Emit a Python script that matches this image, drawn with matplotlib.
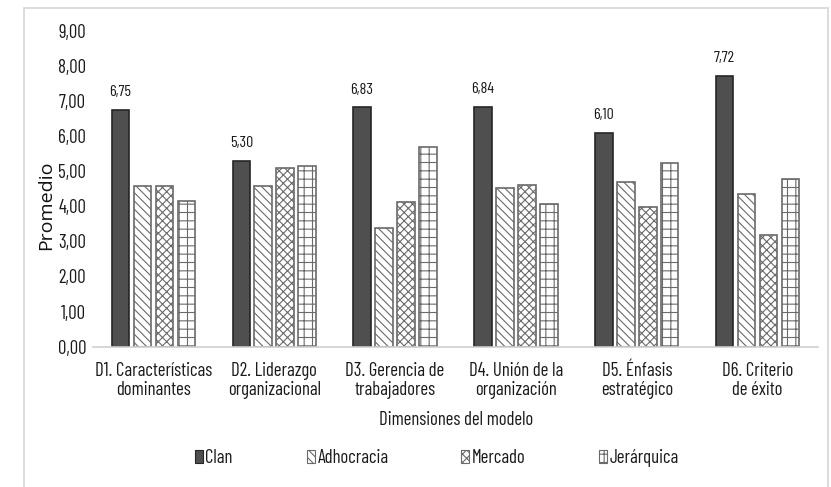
import matplotlib
matplotlib.use("Agg")
import matplotlib.pyplot as plt
from matplotlib.patches import Rectangle, Patch
import numpy as np

plt.rcParams['hatch.linewidth'] = 0.8

categories = ["D1. Características\ndominantes", "D2. Liderazgo\norganizacional",
              "D3. Gerencia de\ntrabajadores", "D4. Unión de la\norganización",
              "D5. Énfasis\nestratégico", "D6. Criterio\nde éxito"]
series = ["Clan", "Adhocracia", "Mercado", "Jerárquica"]
clan = [6.75, 5.30, 6.83, 6.84, 6.10, 7.72]
adhocracia = [4.59, 4.59, 3.37, 4.53, 4.70, 4.35]
mercado = [4.59, 5.09, 4.12, 4.61, 3.99, 3.18]
jerarquica = [4.16, 5.16, 5.70, 4.07, 5.23, 4.77]
yticks = [0, 1, 2, 3, 4, 5, 6, 7, 8, 9]

narrow = ['Barlow Condensed', 'Roboto Condensed', 'DejaVu Sans']
ink = '#1a1a1a'

fig = plt.figure(figsize=(8.31, 4.87), dpi=100)
fig.patches.append(Rectangle((24/831, -0.02), (828-24)/831, 1 - 8/487 + 0.02,
                             transform=fig.transFigure, fill=False,
                             edgecolor='#d6d6d6', linewidth=1.2))
ax = fig.add_axes([93/831, 1 - 346.6/487, (818-93)/831, 315.5/487])

styles = [
    dict(facecolor='#4f4f4f', edgecolor='#262626', hatch=None),
    dict(facecolor='white', edgecolor='#6a6a6a', hatch='\\\\\\\\'),
    dict(facecolor='white', edgecolor='#6a6a6a', hatch='xxxx'),
    dict(facecolor='white', edgecolor='#6a6a6a', hatch='++'),
]
data = [clan, adhocracia, mercado, jerarquica]
x = np.arange(len(categories))
width = 0.145
step = 0.182
for i, (vals, st, name) in enumerate(zip(data, styles, series)):
    pos = x + (i - 1.5) * step
    ax.bar(pos, vals, width, facecolor=st['facecolor'], edgecolor=st['edgecolor'],
           hatch=st['hatch'], linewidth=1.2, label=name)
    if i == 0:
        for p, v in zip(pos, vals):
            ax.text(p, v + 0.3, f"{v:.2f}".replace('.', ','), ha='center', va='bottom',
                    fontsize=11.5, family=narrow, color=ink)

ax.set_xlim(-0.5, len(categories) - 0.5)
ax.set_ylim(0, 9)
ax.set_yticks(yticks)
ax.set_yticklabels([f"{t:.2f}".replace('.', ',') for t in yticks], family=narrow,
                   fontsize=13.5, color=ink)
ax.set_xticks(x)
ax.set_xticklabels(categories, family=narrow, fontsize=13.5, color=ink,
                   linespacing=1.1)
ax.tick_params(axis='y', length=0, pad=5)
ax.tick_params(axis='x', length=0, pad=11)
for s in ['top', 'right', 'left']:
    ax.spines[s].set_visible(False)
ax.spines['bottom'].set_color('#d0d0d0')
ax.spines['bottom'].set_linewidth(1.2)

fig.text(46/831, 1 - 205/487, "Promedio", rotation=90, ha='center', va='center',
         fontsize=14, family='Open Sans', color='#111111')
fig.text(456/831, 1 - 420/487, "Dimensiones del modelo", ha='center', va='center',
         family=narrow, fontsize=13.5, color=ink)

# one legend entry per series, spaced along the bottom
legend_x = [195, 307, 461, 599]
for st, name, lx in zip(styles, series, legend_x):
    h = Patch(facecolor=st['facecolor'], edgecolor=st['edgecolor'], hatch=st['hatch'],
              linewidth=0.8, label=name)
    leg = fig.legend(handles=[h], loc='center left', bbox_to_anchor=(lx/831, 1 - 458/487),
                     frameon=False, handlelength=0.4, handleheight=0.75,
                     handletextpad=0.15, borderpad=0, borderaxespad=0,
                     prop={'family': narrow, 'size': 13.5})
    for t in leg.get_texts():
        t.set_color(ink)

fig.savefig("out.png", dpi=100, facecolor='white')
